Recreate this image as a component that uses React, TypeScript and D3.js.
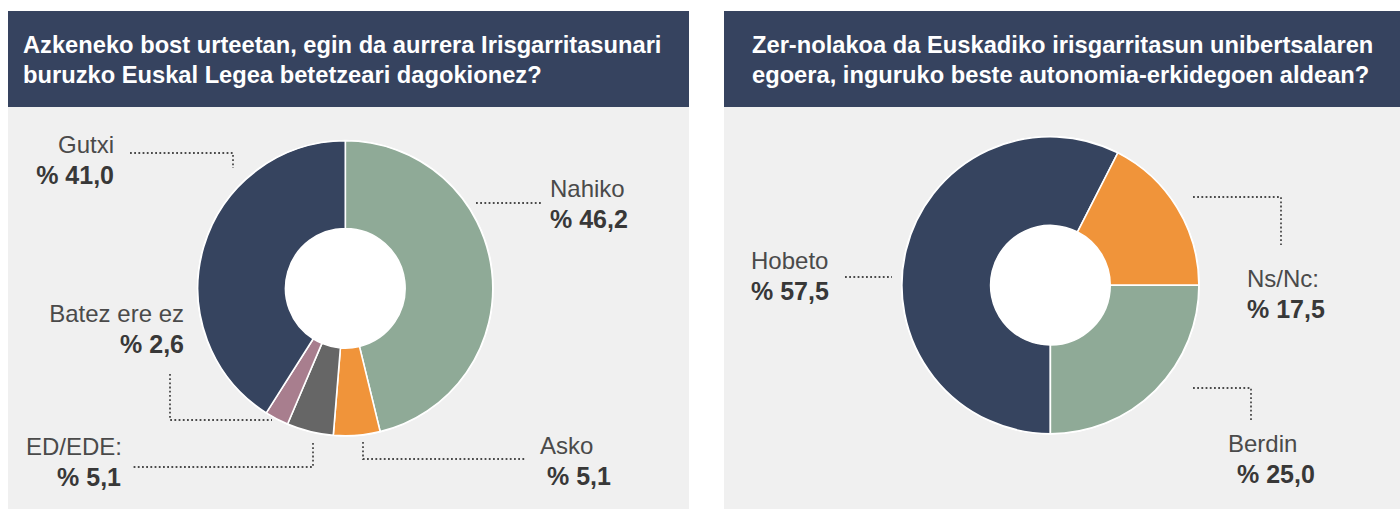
import React from "react";
import * as d3 from "d3";

// ---- Data ----
const leftTitle = [
  "Azkeneko bost urteetan, egin da aurrera Irisgarritasunari",
  "buruzko Euskal Legea betetzeari dagokionez?",
];
const leftCategories = ["Nahiko", "Asko", "ED/EDE:", "Batez ere ez", "Gutxi"];
const leftValues = [46.2, 5.1, 5.1, 2.6, 41.0];
const leftColors = ["#8faa97", "#f0943a", "#666666", "#a87e8e", "#36445f"];

const rightTitle = [
  "Zer-nolakoa da Euskadiko irisgarritasun unibertsalaren",
  "egoera, inguruko beste autonomia-erkidegoen aldean?",
];
const rightCategories = ["Hobeto", "Ns/Nc:", "Berdin"];
const rightValues = [57.5, 17.5, 25.0];
const rightColors = ["#36445f", "#f0943a", "#8faa97"];

// ---- Layout (annotation positions) ----
type Lbl = { x: number; y: number; anchor: "start" | "end"; dx2?: number; line: [number, number][] };
const leftLabels: Lbl[] = [
  { x: 550, y: 197, anchor: "start", line: [[476, 203], [542, 203]] },
  { x: 540, y: 454, anchor: "start", dx2: 7, line: [[363, 442], [363, 459], [526, 459]] },
  { x: 122, y: 455, anchor: "end", dx2: -1, line: [[313, 443], [313, 467], [132, 467]] },
  { x: 184, y: 322, anchor: "end", line: [[170, 374], [170, 420], [272, 420]] },
  { x: 114, y: 153, anchor: "end", line: [[130, 153], [233, 153], [233, 168]] },
];
const rightLabels: Lbl[] = [
  { x: 751, y: 269, anchor: "start", line: [[845, 277], [892, 277]] },
  { x: 1247, y: 287, anchor: "start", line: [[1193, 197], [1281, 197], [1281, 245]] },
  { x: 1228, y: 452, anchor: "start", dx2: 9, line: [[1193, 388], [1251, 388], [1251, 422]] },
];

const fmt = (v: number) => "% " + d3.format(".1f")(v).replace(".", ",");

const HEADER = "#36435f";
const BODY = "#f0f0f0";

function Donut(props: {
  cx: number; cy: number; r: number; r0: number;
  values: number[]; colors: string[]; start: number;
}) {
  const { cx, cy, r, r0, values, colors, start } = props;
  const pie = d3.pie<number>().sort(null).startAngle(start).endAngle(start + 2 * Math.PI);
  const arcs = pie(values);
  const arc = d3.arc<d3.PieArcDatum<number>>().innerRadius(r0).outerRadius(r);
  return (
    <g transform={`translate(${cx},${cy})`}>
      <circle r={r + 1} fill="#ffffff" />
      {arcs.map((a, i) => (
        <path key={i} d={arc(a) || ""} fill={colors[i]} stroke="#ffffff" strokeWidth={1.6} strokeLinejoin="round" />
      ))}
      <circle r={r0} fill="#ffffff" />
    </g>
  );
}

function Labels(props: { cats: string[]; values: number[]; labels: Lbl[] }) {
  const { cats, values, labels } = props;
  const line = d3.line();
  return (
    <g>
      {labels.map((l, i) => (
        <g key={i}>
          <path d={line(l.line) || ""} fill="none" stroke="#4a4a4a" strokeWidth={1.8} strokeDasharray="1.8 2.4" />
          <text x={l.x} y={l.y} textAnchor={l.anchor} fontSize={24} fill="#4a4a4a"
            fontFamily="'Liberation Sans', Arial, sans-serif" fontWeight={300}>{cats[i]}</text>
          <text x={l.x + (l.dx2 || 0)} y={l.y + 31} textAnchor={l.anchor} fontSize={25} fill="#383838"
            fontFamily="'Liberation Sans', Arial, sans-serif" fontWeight={700}>{fmt(values[i])}</text>
        </g>
      ))}
    </g>
  );
}

function Title(props: { x: number; lines: string[] }) {
  return (
    <g>
      {props.lines.map((t, i) => (
        <text key={i} x={props.x} y={53 + i * 30} fontSize={23.7} fill="#ffffff" fontWeight={700}
          fontFamily="'Liberation Sans', Arial, sans-serif">{t}</text>
      ))}
    </g>
  );
}

export default function App() {
  return (
    <svg width={1400} height={510} style={{ position: "absolute", left: 0, top: 0 }}>
      <rect x={0} y={0} width={1400} height={510} fill="#ffffff" />
      {/* left panel */}
      <rect x={8} y={107} width={681} height={402} fill={BODY} />
      <rect x={8} y={11} width={681} height={96} fill={HEADER} />
      {/* right panel */}
      <rect x={724} y={107} width={676} height={402} fill={BODY} />
      <rect x={724} y={11} width={676} height={96} fill={HEADER} />
      <Title x={23} lines={leftTitle} />
      <Title x={752} lines={rightTitle} />
      <Donut cx={345.3} cy={288.3} r={147.5} r0={59.8} values={leftValues} colors={leftColors} start={0} />
      <Donut cx={1050.4} cy={285.2} r={148.5} r0={59.8} values={rightValues} colors={rightColors} start={Math.PI} />
      <Labels cats={leftCategories} values={leftValues} labels={leftLabels} />
      <Labels cats={rightCategories} values={rightValues} labels={rightLabels} />
    </svg>
  );
}
